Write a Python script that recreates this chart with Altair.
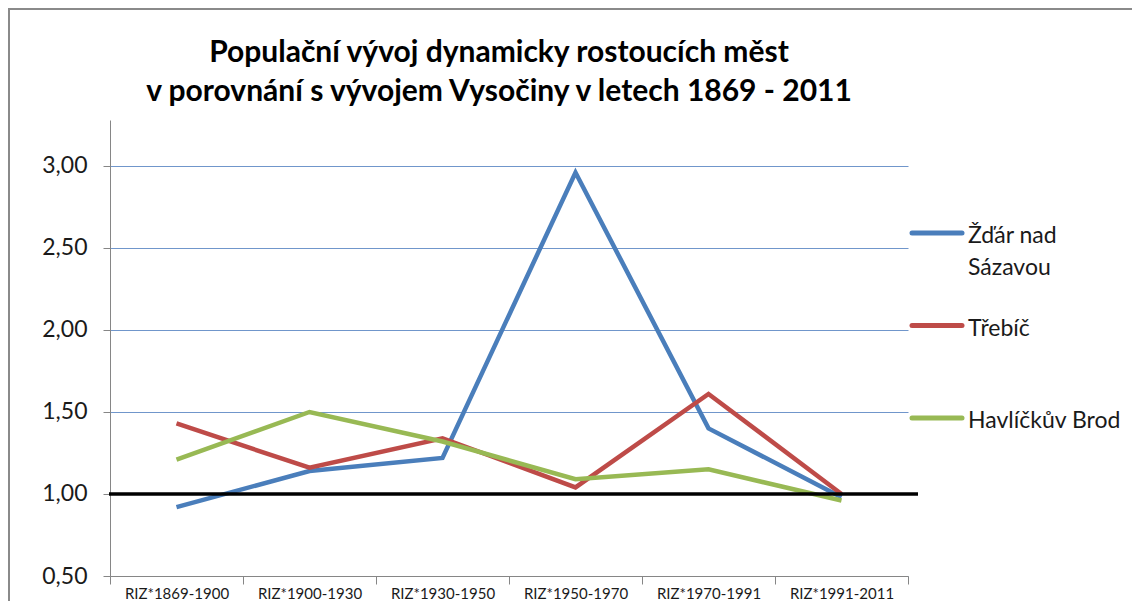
import altair as alt
import pandas as pd

# ---- data ----
categories = ["RIZ*1869-1900", "RIZ*1900-1930", "RIZ*1930-1950",
              "RIZ*1950-1970", "RIZ*1970-1991", "RIZ*1991-2011"]
series_names = ["Žďár nad Sázavou", "Třebíč", "Havlíčkův Brod"]
zdar = [0.92, 1.14, 1.22, 2.96, 1.40, 0.98]
trebic = [1.43, 1.16, 1.34, 1.04, 1.61, 1.00]
havlickuv = [1.21, 1.50, 1.32, 1.09, 1.15, 0.96]
reference_value = [1.00]
legend_labels = ["Žďár nad\nSázavou", "Třebíč", "Havlíčkův Brod"]
colors = ["#4a7ebb", "#be4b48", "#98b954"]
y_ticks = [0.5, 1.0, 1.5, 2.0, 2.5, 3.0]
title_lines = ["Populační vývoj  dynamicky rostoucích měst",
               "v porovnání  s vývojem Vysočiny v letech 1869 - 2011"]

rows = []
for name, vals in zip(series_names, [zdar, trebic, havlickuv]):
    for c, v in zip(categories, vals):
        rows.append({"category": c, "series": name, "value": v})
df = pd.DataFrame(rows)
ref_df = pd.DataFrame({"value": reference_value})
legend_df = pd.DataFrame({"series": series_names, "label": legend_labels})
frame_df = pd.DataFrame({"k": [0]})

FONT = "Lato"
color_scale = alt.Scale(domain=series_names, range=colors)

x_enc = alt.X(
    "category:N",
    sort=categories,
    bandPosition=0.5,
    scale=alt.Scale(type="band", paddingInner=0, paddingOuter=0),
    axis=alt.Axis(
        title=None, labelAngle=0, tickBand="extent", tickSize=8,
        tickColor="#868686", domainColor="#868686", labelFontSize=15,
        labelFont=FONT, labelColor="#1a1a1a", labelPadding=2,
        labelOverlap=False, grid=False,
    ),
)
y_scale = alt.Scale(domain=[0.5, 3.28], nice=False, zero=False)
y_enc = alt.Y(
    "value:Q",
    scale=y_scale,
    axis=alt.Axis(
        title=None, values=y_ticks,
        labelExpr="replace(format(datum.value, '.2f'), '.', ',')",
        labelFontSize=23, labelFont=FONT, labelColor="#1a1a1a",
        tickSize=7, tickColor="#868686", domainColor="#868686",
        labelPadding=16, grid=True, gridColor="#7096cb", gridWidth=1,
    ),
)

lines = alt.Chart(df).mark_line(strokeWidth=4.5, strokeJoin="miter").encode(
    x=x_enc,
    y=y_enc,
    color=alt.Color("series:N", scale=color_scale, legend=None),
    order=alt.Order("category:N"),
)

ref_rule = alt.Chart(ref_df).mark_rule(color="#000000", strokeWidth=3.5).encode(
    y=alt.Y("value:Q", scale=y_scale),
    x=alt.value(-1),
    x2=alt.value(808),
)

legend_scale = alt.Scale(domain=series_names, range=[113, 298], type="point", padding=0)
legend_sym = alt.Chart(legend_df).mark_rule(strokeWidth=5, strokeCap="round").encode(
    y=alt.Y("series:N", scale=legend_scale, axis=None, sort=series_names),
    x=alt.value(802),
    x2=alt.value(852),
    color=alt.Color("series:N", scale=color_scale, legend=None),
)
legend_txt = alt.Chart(legend_df).mark_text(
    align="left", baseline="alphabetic", dy=10, fontSize=23, font=FONT,
    lineBreak="\n", lineHeight=32, color="#1a1a1a",
).encode(
    y=alt.Y("series:N", scale=legend_scale, axis=None, sort=series_names),
    x=alt.value(858),
    text="label:N",
)

frame_top = alt.Chart(frame_df).mark_rule(color="#8a8a8a", strokeWidth=2).encode(
    y=alt.value(-111), x=alt.value(-102), x2=alt.value(1100)
)
frame_left = alt.Chart(frame_df).mark_rule(color="#8a8a8a", strokeWidth=2).encode(
    x=alt.value(-101), y=alt.value(-111), y2=alt.value(600)
)

main = alt.layer(lines, ref_rule)
legend = alt.layer(legend_sym, legend_txt)

chart = alt.layer(main, legend, frame_top, frame_left).resolve_scale(
    y="independent"
).properties(
    width=798,
    height=456,
    autosize=alt.AutoSizeParams(type="none"),
    padding={"left": 102, "top": 112, "right": 224, "bottom": 25},
    title=alt.TitleParams(
        text=title_lines, font=FONT, fontSize=30, fontWeight="bold",
        color="#000000", anchor="middle", frame="group", lineHeight=39,
        offset=-99, dx=-10,
    ),
).configure_view(stroke=None)

chart.save("out.html", embed_options={"renderer": "svg", "actions": False})
